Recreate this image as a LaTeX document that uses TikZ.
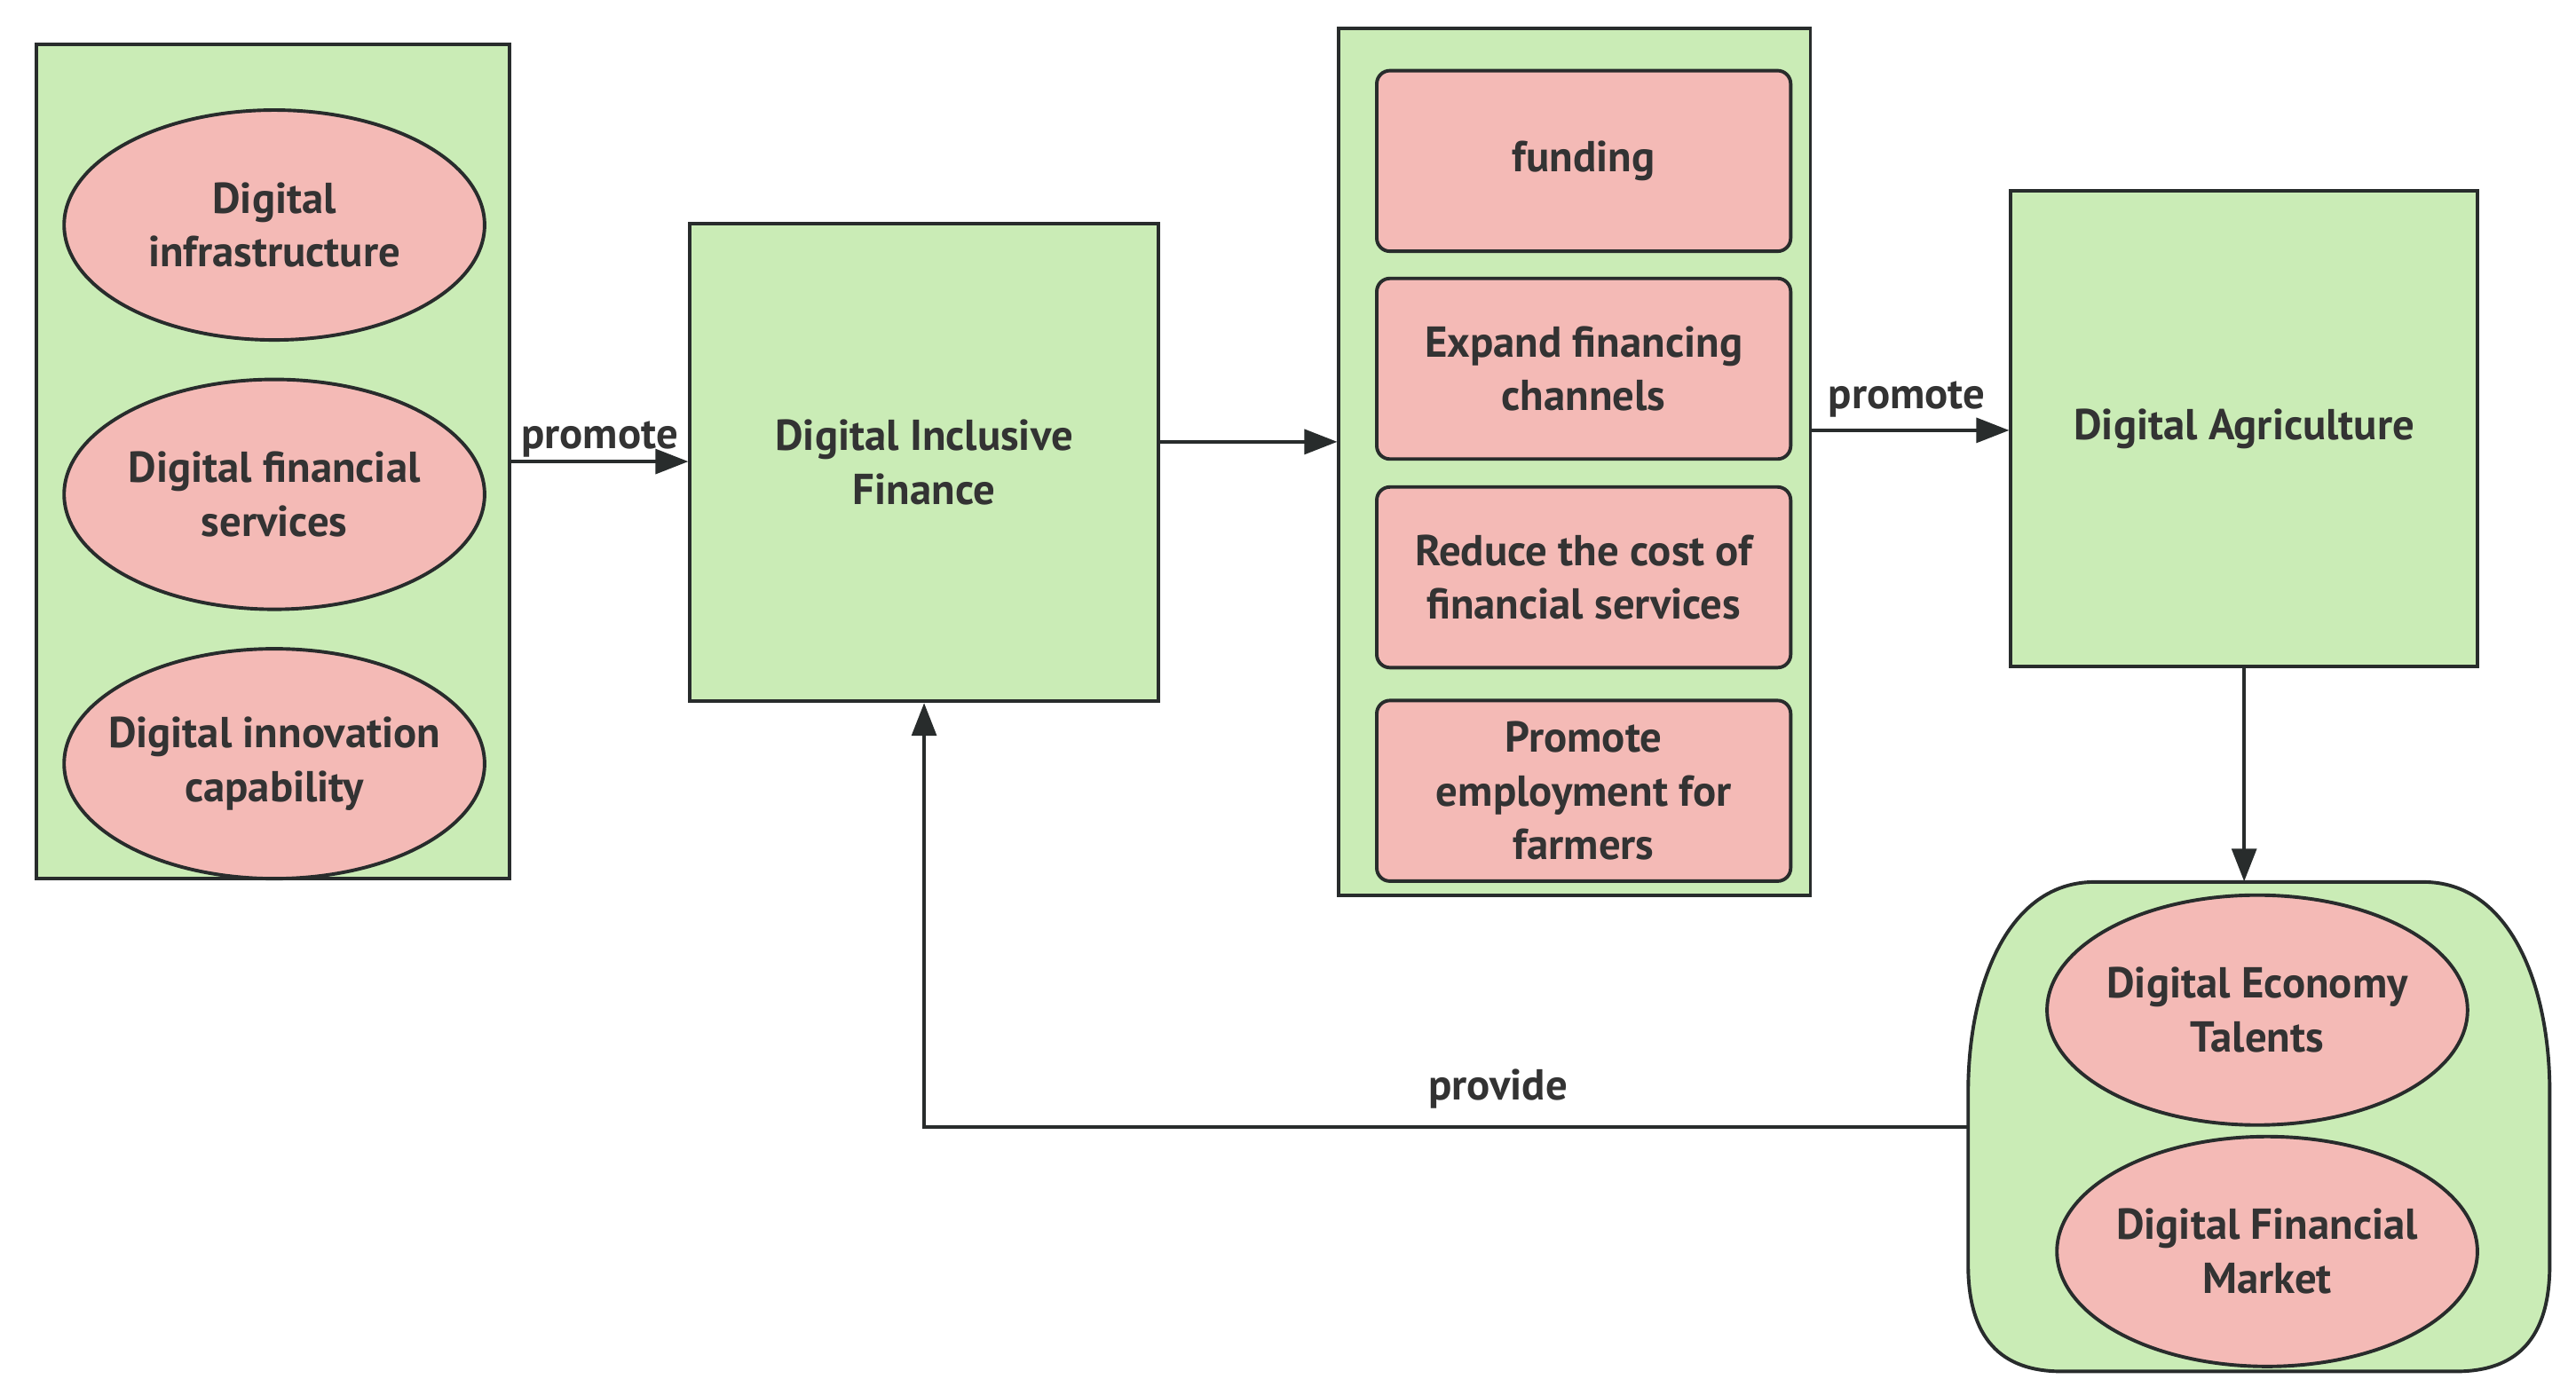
\documentclass[tikz,border=0pt]{standalone}
\usepackage{fontspec}
\setmainfont{PT Sans}
\usetikzlibrary{arrows.meta,shapes.geometric,calc}
\definecolor{gfill}{RGB}{202,236,182}
\definecolor{pfill}{RGB}{244,186,182}
\definecolor{edgec}{RGB}{40,44,44}
\definecolor{txtc}{RGB}{51,51,51}
\newcommand\dlbl{\fontsize{15}{18.7}\selectfont\bfseries}
\begin{document}
\begin{tikzpicture}[x=0.02cm,y=-0.02cm,
  grp/.style={draw=edgec, fill=gfill, line width=1.2pt, inner sep=0pt},
  gbox/.style={draw=edgec, fill=gfill, line width=1.2pt, align=center, font=\dlbl, text=txtc},
  oval/.style={ellipse, draw=edgec, fill=pfill, line width=1.2pt, minimum width=5.12cm, minimum height=2.8cm, inner sep=0pt,
     label={[align=center, font=\dlbl, text=txtc, inner sep=0pt]center:#1}},
  pbox/.style={draw=edgec, fill=pfill, line width=1.2pt, rounded corners=0.16cm, minimum width=5.04cm, minimum height=2.2cm, inner sep=0pt, align=center, font=\dlbl, text=txtc},
  conn/.style={draw=edgec, line width=1.2pt, -{Triangle[length=0.4cm,width=0.3cm]}},
  elbl/.style={font=\dlbl, text=txtc, inner sep=1pt}]
\useasboundingbox (0,0) rectangle (1568,849);
% left group
\node[grp, minimum width=5.76cm, minimum height=10.16cm] (L) at (166,281) {};
\node[oval={Digital\\infrastructure}] (e1) at (167,137) {};
\node[oval={Digital financial\\services}] (e2) at (167,301) {};
\node[oval={Digital innovation\\capability}] (e3) at (167,465) {};
% DIF
\node[gbox, minimum width=5.7cm, minimum height=5.82cm] (DIF) at (562.5,281.5) {Digital Inclusive\\Finance};
% middle group
\node[grp, minimum width=5.74cm, minimum height=10.56cm] (M) at (958.5,281) {};
\node[pbox] (p1) at (964,98) {funding};
\node[pbox] (p2) at (964,224.5) {Expand financing\\channels};
\node[pbox] (p3) at (964,351.5) {Reduce the cost of\\financial services};
\node[pbox] (p4) at (964,481.5) {Promote\\employment for\\farmers};
% Digital Agriculture
\node[gbox, minimum width=5.68cm, minimum height=5.8cm, text depth=0.1cm] (DA) at (1366,261) {Digital Agriculture};
% bottom group (bulging rounded shape)
\node[inner sep=0pt, minimum width=7.08cm, minimum height=5.96cm] (B) at (1375,686) {};
\draw[draw=edgec, fill=gfill, line width=1.2pt]
  (1275,537) -- (1475,537)
  .. controls (1528,537) and (1552,600) .. (1552,665) -- (1552,770)
  .. controls (1552,815) and (1532,835) .. (1495,835) -- (1255,835)
  .. controls (1218,835) and (1198,815) .. (1198,770) -- (1198,665)
  .. controls (1198,600) and (1222,537) .. (1275,537) -- cycle;
\node[oval={Digital Economy\\Talents}] (e4) at (1374,615) {};
\node[oval={Digital Financial\\Market}] (e5) at (1380,762) {};
% connectors
\draw[conn] (L.east) -- node[elbl, above, pos=0.5] {promote} (DIF.west |- L.east);
\draw[conn] (DIF.east |- 0,269) -- (M.west |- 0,269);
\draw[conn] (M.east |- 0,262) -- node[elbl, above=0.1cm, pos=0.48] {promote} (DA.west |- 0,262);
\draw[conn] (DA.south) -- (DA.south |- B.north);
\draw[conn] (B.west) -- node[elbl, above=0.16cm, pos=0.45] {provide} (DIF.south |- B.west) -- (DIF.south);
\end{tikzpicture}
\end{document}
